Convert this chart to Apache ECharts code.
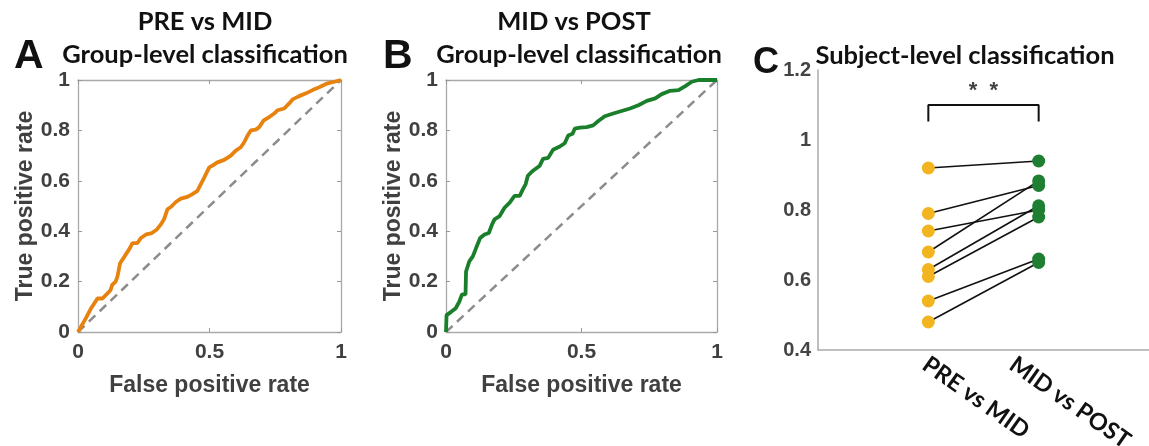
<!DOCTYPE html>
<html>
<head>
<meta charset="utf-8">
<script src="https://cdn.jsdelivr.net/npm/echarts@6/dist/echarts.min.js"></script>
<style>
  html, body { margin: 0; padding: 0; background: #fff; }
  #main { width: 1149px; height: 446px; }
</style>
</head>
<body>
<div id="main"></div>
<script>
// panel A: PRE vs MID ROC (false positive rate, true positive rate)
var rocPreMidFpr = [0, 0.029, 0.048, 0.074, 0.093, 0.112, 0.124, 0.13, 0.143, 0.15, 0.16, 0.169, 0.181, 0.194, 0.207, 0.226, 0.239, 0.259, 0.278, 0.3, 0.315, 0.327, 0.34, 0.353, 0.372, 0.391, 0.416, 0.435, 0.454, 0.467, 0.48, 0.499, 0.511, 0.53, 0.556, 0.581, 0.6, 0.619, 0.632, 0.645, 0.657, 0.676, 0.689, 0.706, 0.727, 0.746, 0.759, 0.784, 0.803, 0.816, 0.841, 0.867, 0.892, 0.917, 0.949, 0.975, 1];
var rocPreMidTpr = [0, 0.053, 0.091, 0.133, 0.133, 0.153, 0.167, 0.187, 0.2, 0.22, 0.273, 0.287, 0.307, 0.327, 0.353, 0.353, 0.373, 0.387, 0.391, 0.407, 0.427, 0.447, 0.487, 0.496, 0.516, 0.529, 0.536, 0.547, 0.56, 0.587, 0.613, 0.653, 0.66, 0.673, 0.683, 0.7, 0.72, 0.733, 0.753, 0.78, 0.8, 0.803, 0.813, 0.84, 0.853, 0.867, 0.88, 0.887, 0.907, 0.923, 0.936, 0.947, 0.96, 0.971, 0.987, 0.993, 1];

// panel B: MID vs POST ROC
var rocMidPostFpr = [0, 0.002, 0.019, 0.035, 0.049, 0.059, 0.072, 0.074, 0.086, 0.099, 0.111, 0.126, 0.142, 0.158, 0.17, 0.179, 0.198, 0.216, 0.235, 0.253, 0.272, 0.284, 0.294, 0.302, 0.321, 0.346, 0.358, 0.377, 0.395, 0.42, 0.438, 0.451, 0.467, 0.475, 0.494, 0.519, 0.543, 0.562, 0.586, 0.617, 0.648, 0.679, 0.71, 0.741, 0.772, 0.796, 0.827, 0.858, 0.883, 0.907, 0.932, 1];
var rocMidPostTpr = [0, 0.067, 0.08, 0.093, 0.12, 0.149, 0.149, 0.24, 0.28, 0.3, 0.333, 0.373, 0.387, 0.393, 0.427, 0.447, 0.46, 0.493, 0.513, 0.54, 0.54, 0.567, 0.587, 0.62, 0.64, 0.66, 0.687, 0.691, 0.723, 0.736, 0.749, 0.78, 0.787, 0.807, 0.811, 0.813, 0.82, 0.837, 0.856, 0.867, 0.877, 0.887, 0.9, 0.917, 0.927, 0.944, 0.957, 0.96, 0.976, 0.993, 1, 1];

// panel C: subject-level accuracy, paired by subject
var subjCategories = ["PRE vs MID", "MID vs POST"];
var subjPreMid = [0.92, 0.79, 0.74, 0.68, 0.63, 0.61, 0.54, 0.48];
var subjMidPost = [0.94, 0.87, 0.80, 0.883, 0.812, 0.78, 0.66, 0.65];

function zip(a, b) {
  var out = [];
  for (var i = 0; i < a.length; i++) out.push([a[i], b[i]]);
  return out;
}

var titleFont = "Lato, 'Open Sans', sans-serif";
var tickFont = "'Liberation Sans', Arial, sans-serif";

// box-style axes like matlab: labels on left/bottom, plain lines + inner ticks on top/right
function rocAxes(gridIndex) {
  var lab = { fontSize: 21, fontWeight: "bold", color: "#404040", fontFamily: tickFont };
  var tick = { show: true, inside: true, length: 4, lineStyle: { color: "#999" } };
  var line = { show: true, onZero: false, lineStyle: { color: "#aaa", width: 1.3 } };
  var nameStyle = { fontSize: 23, fontWeight: "bold", color: "#404040", fontFamily: tickFont };
  return {
    x: [
      { gridIndex: gridIndex, type: "value", min: 0, max: 1, interval: 0.5, position: "bottom",
        axisLine: line, axisTick: tick, splitLine: { show: false },
        axisLabel: Object.assign({ margin: 10, formatter: function (v) { return String(v); } }, lab),
        name: "False positive rate", nameLocation: "middle", nameGap: 42, nameTextStyle: nameStyle },
      { gridIndex: gridIndex, type: "value", min: 0, max: 1, interval: 0.5, position: "top",
        axisLine: line, axisTick: tick, splitLine: { show: false }, axisLabel: { show: false } }
    ],
    y: [
      { gridIndex: gridIndex, type: "value", min: 0, max: 1, interval: 0.2, position: "left",
        axisLine: line, axisTick: tick, splitLine: { show: false },
        axisLabel: Object.assign({ margin: 8, formatter: function (v) { return String(+v.toFixed(1)); } }, lab),
        name: "True positive rate", nameLocation: "middle", nameGap: 41, nameRotate: 90, nameTextStyle: nameStyle },
      { gridIndex: gridIndex, type: "value", min: 0, max: 1, interval: 0.2, position: "right",
        axisLine: line, axisTick: tick, splitLine: { show: false }, axisLabel: { show: false } }
    ]
  };
}

var axA = rocAxes(0), axB = rocAxes(1);

var series = [
  { type: "line", xAxisIndex: 0, yAxisIndex: 0, data: [[0, 0], [1, 1]], symbol: "none",
    lineStyle: { color: "#8c8c8c", width: 2.5, type: [9, 6] }, z: 2 },
  { type: "line", xAxisIndex: 0, yAxisIndex: 0, data: zip(rocPreMidFpr, rocPreMidTpr), symbol: "none",
    lineStyle: { color: "#e8820f", width: 3.8 }, z: 3 },
  { type: "line", xAxisIndex: 2, yAxisIndex: 2, data: [[0, 0], [1, 1]], symbol: "none",
    lineStyle: { color: "#8c8c8c", width: 2.5, type: [9, 6] }, z: 2 },
  { type: "line", xAxisIndex: 2, yAxisIndex: 2, data: zip(rocMidPostFpr, rocMidPostTpr), symbol: "none",
    lineStyle: { color: "#1a7f2b", width: 3.8 }, z: 3 }
];

// paired lines for panel C
for (var i = 0; i < subjPreMid.length; i++) {
  series.push({ type: "line", xAxisIndex: 4, yAxisIndex: 4, data: [[1, subjPreMid[i]], [2, subjMidPost[i]]],
    symbol: "none", lineStyle: { color: "#111", width: 1.6 }, z: 2, silent: true });
}
series.push({ type: "scatter", xAxisIndex: 4, yAxisIndex: 4, symbolSize: 13,
  data: subjPreMid.map(function (v) { return [1, v]; }), itemStyle: { color: "#f2b51f", opacity: 1 }, z: 4 });
series.push({ type: "scatter", xAxisIndex: 4, yAxisIndex: 4, symbolSize: 13,
  data: subjMidPost.map(function (v) { return [2, v]; }), itemStyle: { color: "#1e7f32", opacity: 1 }, z: 4 });
// significance bracket
series.push({ type: "line", xAxisIndex: 4, yAxisIndex: 4, data: [[1, 1.053], [1, 1.1], [2, 1.1], [2, 1.053]],
  symbol: "none", lineStyle: { color: "#111", width: 2 }, z: 3 });
series.push({ type: "scatter", xAxisIndex: 4, yAxisIndex: 4, data: [[1.5, 1.14]], symbolSize: 0,
  label: { show: true, formatter: "*  *", fontSize: 22, fontWeight: "bold", color: "#111", position: "inside",
    fontFamily: tickFont } });

var bigTitle = { fontSize: 25.5, fontWeight: "bold", color: "#111", fontFamily: titleFont };

var option = {
  animation: false,
  grid: [
    { left: 78, top: 80, width: 263, height: 252, outerBoundsMode: "none" },
    { left: 446, top: 80, width: 271, height: 252, outerBoundsMode: "none" },
    { left: 818, top: 70, width: 331, height: 280, outerBoundsMode: "none" }
  ],
  title: [
    { text: "PRE vs MID", left: 200, top: 4, textAlign: "center", textStyle: bigTitle },
    { text: "Group-level classification", left: 200, top: 37, textAlign: "center", textStyle: bigTitle },
    { text: "MID vs POST", left: 569, top: 4, textAlign: "center", textStyle: bigTitle },
    { text: "Group-level classification", left: 574, top: 37, textAlign: "center", textStyle: bigTitle },
    { text: "Subject-level classification", left: 960, top: 38, textAlign: "center", textStyle: bigTitle },
    { text: "A", left: 9, top: 31, textStyle: { fontSize: 41, fontWeight: "bold", color: "#111", fontFamily: tickFont } },
    { text: "B", left: 378, top: 31, textStyle: { fontSize: 41, fontWeight: "bold", color: "#111", fontFamily: tickFont } },
    { text: "C", left: 748, top: 40, textStyle: { fontSize: 36, fontWeight: "bold", color: "#111", fontFamily: tickFont } }
  ],
  xAxis: axA.x.concat(axB.x).concat([
    // data axis for panel C (categories sit at 1 and 2)
    { gridIndex: 2, type: "value", min: 0, max: 3, interval: 1, position: "bottom",
      axisLine: { show: true, onZero: false, lineStyle: { color: "#aaa", width: 1.5 } }, axisTick: { show: false },
      splitLine: { show: false }, axisLabel: { show: false } },
    // label-only axis: matlab places the rotated labels slightly left of the markers
    { gridIndex: 2, type: "value", min: -0.23, max: 3.575, position: "bottom",
      axisLine: { show: false }, axisTick: { show: false }, splitLine: { show: false },
      axisLabel: { customValues: [1, 2], rotate: -35, margin: 12, fontSize: 23.5, fontWeight: "bold",
        color: "#111", fontFamily: titleFont,
        formatter: function (v) { return subjCategories[Math.round(v) - 1] || ""; } } }
  ]),
  yAxis: axA.y.concat(axB.y).concat([
    { gridIndex: 2, type: "value", min: 0.4, max: 1.2, interval: 0.2, position: "left",
      axisLine: { show: true, onZero: false, lineStyle: { color: "#aaa", width: 1.5 } }, axisTick: { show: false },
      splitLine: { show: false },
      axisLabel: { margin: 7, fontSize: 20, fontWeight: "bold", color: "#444", fontFamily: tickFont,
        formatter: function (v) { return String(+v.toFixed(1)); } } }
  ]),
  series: series
};

var chart = echarts.init(document.getElementById("main"));
chart.setOption(option);
</script>
</body>
</html>
